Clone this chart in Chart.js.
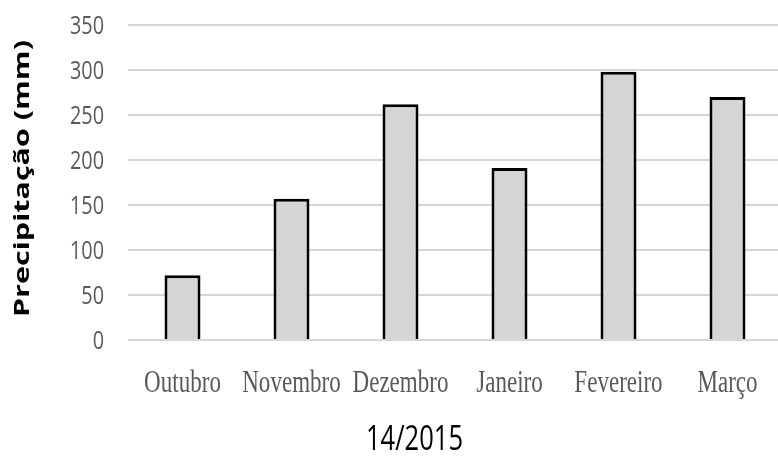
<!DOCTYPE html>
<html>
<head>
<meta charset="utf-8">
<script src="https://cdn.jsdelivr.net/npm/chart.js@4/dist/chart.umd.min.js"></script>
<style>
  html, body { margin: 0; padding: 0; background: #fff; overflow: hidden; }
  #wrap { width: 784px; height: 456px; position: relative; }
</style>
</head>
<body>
<div id="wrap"><canvas id="c"></canvas></div>
<script>
// Monthly rainfall, season 2014/2015
const months = ['Outubro', 'Novembro', 'Dezembro', 'Janeiro', 'Fevereiro', 'Março'];
const precipitation = [72, 157, 262, 191, 298, 270];
const yTicks = [0, 50, 100, 150, 200, 250, 300, 350];
const yTitle = 'Precipitação (mm)';
const xTitle = '14/2015';

// Draws text squeezed or stretched along its own direction so it fills a given length.
function drawFitted(ctx, text, x, y, o) {
  ctx.save();
  ctx.font = o.font;
  ctx.fillStyle = o.color;
  ctx.textAlign = o.align || 'center';
  ctx.textBaseline = o.baseline || 'alphabetic';
  ctx.translate(x, y);
  if (o.rotate) ctx.rotate(o.rotate);
  const sx = o.sx != null ? o.sx : o.width / ctx.measureText(text).width;
  ctx.scale(sx, 1);
  ctx.fillText(text, 0, 0);
  ctx.restore();
}

const axisText = {
  id: 'axisText',
  afterDraw(chart) {
    const ctx = chart.ctx;
    const ys = chart.scales.y, xs = chart.scales.x;

    // value labels on the left
    ctx.save();
    ctx.font = '26px "Open Sans"';
    const tickSx = 34 / ctx.measureText('350').width;
    ctx.restore();
    yTicks.forEach(v => {
      drawFitted(ctx, String(v), 104, ys.getPixelForValue(v) + 8.5, {
        font: '26px "Open Sans"', color: '#595959', align: 'right', sx: tickSx
      });
    });

    // month names
    months.forEach((m, i) => {
      drawFitted(ctx, m, xs.getPixelForValue(i), 392, {
        font: '32px "Liberation Serif"', color: '#595959', sx: 0.72
      });
    });

    // axis titles
    drawFitted(ctx, xTitle, 414.5, 450, {
      font: '35px "Open Sans"', color: '#000', width: 97
    });
    drawFitted(ctx, yTitle, 23, 178.5, {
      font: 'bold 21px "Open Sans"', color: '#000', baseline: 'middle',
      rotate: -Math.PI / 2, width: 277
    });
  }
};

new Chart(document.getElementById('c'), {
  type: 'bar',
  data: {
    labels: months,
    datasets: [{
      data: precipitation,
      backgroundColor: '#d5d5d5',
      borderColor: '#000',
      borderWidth: 3,
      categoryPercentage: 1,
      barPercentage: 0.33
    }]
  },
  options: {
    responsive: true,
    maintainAspectRatio: false,
    animation: false,
    layout: { padding: { left: 128, right: 2, top: 25, bottom: 116 } },
    plugins: { legend: { display: false }, tooltip: { enabled: false } },
    scales: {
      x: {
        display: true,
        grid: { display: false },
        border: { display: false },
        ticks: { display: false },
        afterFit(s) { s.height = 0; }
      },
      y: {
        min: 0,
        max: 350,
        ticks: { display: false, stepSize: 50 },
        border: { display: false },
        grid: { color: '#d6d6d6', lineWidth: 2, drawTicks: false },
        afterFit(s) { s.width = 0; }
      }
    }
  },
  plugins: [axisText]
});
</script>
</body>
</html>
